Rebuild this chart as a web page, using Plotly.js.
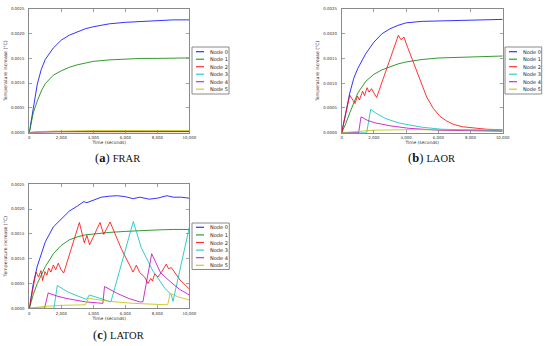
<!DOCTYPE html>
<html><head><meta charset="utf-8">
<script src="https://cdn.plot.ly/plotly-3.0.1.min.js"></script>
<style>html,body{margin:0;padding:0;background:#fff}#chart{width:550px;height:346px}</style>
</head><body><div id="chart"></div>
<script>
// ---------- labels ----------
const nodeNames = ['Node 0','Node 1','Node 2','Node 3','Node 4','Node 5'];
const xTickVals = [0,2000,4000,6000,8000,10000];
const xTickText = ['0','2,000','4,000','6,000','8,000','10,000'];
const yTickVals = [0,0.0005,0.0010,0.0015,0.0020,0.0025];
const yTickText = ['0.0000','0.0005','0.0010','0.0015','0.0020','0.0025'];
const panelLetters = ['a','b','c'];
const panelNames = ['FRAR','LAOR','LATOR'];
const xTitle = 'Time (seconds)';
const yTitle = 'Temperature increase (°C)';

// ---------- (a) FRAR ----------
const frarTime  = [0,250,500,750,1000,1500,2000,2500,3000,3500,4000,5000,6000,7000,8000,9000,10000];
const frarNode0 = [0,0.00050,0.00098,0.00128,0.00148,0.00171,0.00187,0.00197,0.00204,0.00210,0.00214,0.00220,0.00223,0.00225,0.00227,0.00228,0.00228];
const frarNode1 = [0,0.00040,0.00064,0.00084,0.00099,0.00116,0.00125,0.00132,0.00137,0.00141,0.00144,0.00147,0.00149,0.00150,0.00150,0.00151,0.00151];
const frarNode2 = [0,0.000004,0.000007,0.000009,0.00001,0.000012,0.000013,0.000014,0.000015,0.000015,0.000015,0.000015,0.000015,0.000015,0.000015,0.000015,0.000015];
const frarNode3 = [0,0.000005,0.000009,0.000011,0.000013,0.000016,0.000018,0.000019,0.00002,0.00002,0.00002,0.00002,0.00002,0.00002,0.00002,0.00002,0.00002];
const frarNode4 = [0,0.000005,0.000009,0.000011,0.000013,0.000016,0.000018,0.000019,0.00002,0.00002,0.00002,0.00002,0.00002,0.00002,0.00002,0.00002,0.00002];
const frarNode5 = [0,0.000008,0.000014,0.000018,0.000022,0.000028,0.000032,0.000035,0.000037,0.000038,0.000039,0.00004,0.00004,0.00004,0.00004,0.00004,0.00004];

// ---------- (b) LAOR ----------
const laorTime  = [0,250,500,750,1000,1500,2000,2500,3000,3500,4000,5000,6000,7000,8000,9000,10000];
const laorNode0 = [0,0.00042,0.00080,0.00110,0.00130,0.00160,0.00183,0.00200,0.00210,0.00217,0.00222,0.00225,0.00226,0.00227,0.00228,0.00229,0.00229];
const laorNode1 = [0,0.00018,0.00040,0.00062,0.00080,0.00104,0.00118,0.00127,0.00133,0.00139,0.00143,0.00148,0.00151,0.00152,0.00153,0.00154,0.00155];
const laorNode2Time = [0,500,830,980,1100,1300,1420,1570,1700,1850,2170,3520,3680,3870,4100,4350,4860,5280,5690,6100,6500,6930,7500,8000,9000,10000];
const laorNode2 = [0,0.00076,0.00059,0.00074,0.00066,0.00084,0.00075,0.00091,0.00082,0.00089,0.00071,0.00197,0.00188,0.00193,0.00172,0.00150,0.00109,0.00072,0.00049,0.00033,0.00024,0.00017,0.00012,0.00010,0.00007,0.00006];
const laorNode3Time = [0,1550,1800,2200,2700,3500,4140,5000,6200,8000,10000];
const laorNode3 = [0,0,0.00047,0.00038,0.00029,0.00020,0.00016,0.00011,0.00007,0.00005,0.00004];
const laorNode4Time = [0,1050,1200,1600,2070,3000,4140,6000,8000,10000];
const laorNode4 = [0,0,0.00032,0.00025,0.00020,0.00014,0.00009,0.00005,0.00004,0.00003];
const laorNode5Time = [0,1000,2000,4000,10000];
const laorNode5 = [0,0.00003,0.00005,0.00006,0.00006];

// ---------- (c) LATOR ----------
const latorNode0Time = [0,250,500,750,1000,1500,2000,2500,3000,3400,3600,3900,4500,5000,5500,6000,6500,6900,7500,8000,8600,9000,9500,10000];
const latorNode0 = [0,0.00050,0.00085,0.00112,0.00134,0.00164,0.00181,0.00196,0.00206,0.00215,0.00213,0.00217,0.00224,0.00226,0.00227,0.00225,0.00221,0.00224,0.00220,0.00222,0.00227,0.00224,0.00224,0.00222];
const latorNode1Time = [0,250,500,1000,1500,2000,2500,3000,3500,4000,5000,6000,7000,8000,9000,10000];
const latorNode1 = [0,0.00028,0.00050,0.00084,0.00110,0.00127,0.00138,0.00144,0.00148,0.00150,0.00153,0.00155,0.00157,0.00158,0.00159,0.00159];
const latorNode2Time = [0,420,580,730,830,980,1100,1210,1350,1500,1650,1810,1980,2150,3130,3440,3600,3770,4420,4650,5050,5750,6380,6480,6690,6900,7210,7420,7590,7700,7840,8040,8300,8560,8700,8880,9420,10000];
const latorNode2 = [0,0.00073,0.00063,0.00076,0.00056,0.00074,0.00067,0.00081,0.00073,0.00087,0.00078,0.00091,0.00078,0.00071,0.00173,0.00132,0.00147,0.00128,0.00173,0.00149,0.00174,0.00120,0.00080,0.00073,0.00087,0.00072,0.00063,0.00050,0.00060,0.00055,0.00070,0.00063,0.00075,0.00089,0.00080,0.00082,0.00057,0.00039];
const latorNode3Time = [0,1540,1750,2400,3000,3600,3750,4500,5100,6500,7000,7420,7730,8040,8460,8880,8980,10000];
const latorNode3 = [0,0,0.00046,0.00033,0.00025,0.00018,0.00027,0.00019,0.00013,0.00175,0.00122,0.00095,0.00075,0.00061,0.00041,0.00027,0.00014,0.00163];
const latorNode4Time = [0,950,1180,1700,2300,3000,3500,4600,4700,5500,6200,6900,7100,7650,8200,8800,9400,10000];
const latorNode4 = [0,0,0.00031,0.00025,0.00020,0.00016,0.00013,0.00010,0.00044,0.00030,0.00020,0.00013,0.00013,0.00110,0.00072,0.00054,0.00038,0.00027];
const latorNode5Time = [0,1000,2000,3500,3700,5000,6500,8650,8800,9300,10000];
const latorNode5 = [0,0.00004,0.00006,0.00007,0.00020,0.00014,0.00010,0.00007,0.00030,0.00023,0.00017];

// ---------- styling ----------
const W = 550, H = 346;
const fx = p => p / W, fy = p => 1 - p / H;
const colors = ['#0000ff','#008000','#ff0000','#00bfbf','#bf00bf','#bfbf00'];
const frame = '#8a8a8a';
const sans = 'DejaVu Sans';

const panels = [
  {xs:[frarTime,frarTime,frarTime,frarTime,frarTime,frarTime],
   ys:[frarNode0,frarNode1,frarNode2,frarNode3,frarNode4,frarNode5]},
  {xs:[laorTime,laorTime,laorNode2Time,laorNode3Time,laorNode4Time,laorNode5Time],
   ys:[laorNode0,laorNode1,laorNode2,laorNode3,laorNode4,laorNode5]},
  {xs:[latorNode0Time,latorNode1Time,latorNode2Time,latorNode3Time,latorNode4Time,latorNode5Time],
   ys:[latorNode0,latorNode1,latorNode2,latorNode3,latorNode4,latorNode5]}
];
// plot boxes in pixels: [left, right, top, bottom]
const boxes = [[29.3,189.3,9,132.5],[341.7,502.7,9,132.7],[29.3,189.3,184.3,308.3]];
// legend boxes: [left, right, top, bottom, firstRowY, rowStep]
const legends = [[192,229,47,94,51.7,7.5],[505,541.7,47,94,51.7,7.5],[192,229.3,223,269.5,227.3,7.6]];
const captionPos = [[117.5,158],[431,158],[118,335]];

const traces = [];
const layout = {width:W, height:H, margin:{l:0,r:0,t:0,b:0}, paper_bgcolor:'#fff', plot_bgcolor:'#fff',
  showlegend:false, shapes:[], annotations:[], font:{family:sans}};

panels.forEach((p, k) => {
  const sfx = k === 0 ? '' : String(k + 1);
  p.ys.forEach((y, i) => {
    traces.push({type:'scatter', mode:'lines', x:p.xs[i], y:y, name:nodeNames[i],
      xaxis:'x' + sfx, yaxis:'y' + sfx, line:{color:colors[i], width:1}, opacity:0.8, hoverinfo:'skip'});
  });
  const b = boxes[k];
  layout['xaxis' + sfx] = {domain:[fx(b[0]), fx(b[1])], anchor:'y' + sfx, range:[0,10000],
    tickmode:'array', tickvals:xTickVals, ticktext:xTickText, ticks:'inside', ticklen:3, tickwidth:0.8,
    tickcolor:frame, showline:true, linecolor:frame, linewidth:1, mirror:'ticks', showgrid:false,
    zeroline:false, automargin:false, ticklabelstandoff:1,
    tickfont:{family:sans, size:3.9, color:'#333'},
    title:{text:xTitle, font:{family:sans, size:4.4, color:'#333'}, standoff:1.5}};
  layout['yaxis' + sfx] = {domain:[fy(b[3]), fy(b[2])], anchor:'x' + sfx, range:[0,0.0025],
    tickmode:'array', tickvals:yTickVals, ticktext:yTickText, ticks:'inside', ticklen:3, tickwidth:0.8,
    tickcolor:frame, showline:true, linecolor:frame, linewidth:1, mirror:'ticks', showgrid:false,
    zeroline:false, automargin:false, ticklabelstandoff:3,
    tickfont:{family:sans, size:3.9, color:'#333'},
    title:{text:yTitle, font:{family:sans, size:4.6, color:'#333'}, standoff:3}};
  // legend
  const L = legends[k];
  layout.shapes.push({type:'rect', xref:'paper', yref:'paper', x0:fx(L[0]), x1:fx(L[1]), y0:fy(L[3]), y1:fy(L[2]),
    line:{color:frame, width:1}, fillcolor:'#fff', layer:'above'});
  nodeNames.forEach((n, i) => {
    const yy = L[4] + i * L[5];
    layout.shapes.push({type:'line', xref:'paper', yref:'paper', x0:fx(L[0] + 4), x1:fx(L[0] + 12),
      y0:fy(yy), y1:fy(yy), line:{color:colors[i], width:1.2}, opacity:0.8, layer:'above'});
    layout.annotations.push({xref:'paper', yref:'paper', x:fx(L[0] + 16), y:fy(yy), xanchor:'left', yanchor:'middle',
      text:n, showarrow:false, font:{family:sans, size:5, color:'#222'}});
  });
  // caption
  const c = captionPos[k];
  layout.annotations.push({xref:'paper', yref:'paper', x:fx(c[0]), y:fy(c[1]), xanchor:'center', yanchor:'middle',
    showarrow:false, text:'(<b>' + panelLetters[k] + '</b>) <span style="font-size:10.5px">' + panelNames[k] + '</span>',
    font:{family:'Liberation Serif', size:12.5, color:'#111'}});
});

Plotly.newPlot('chart', traces, layout, {staticPlot:true, displayModeBar:false});
</script></body></html>
